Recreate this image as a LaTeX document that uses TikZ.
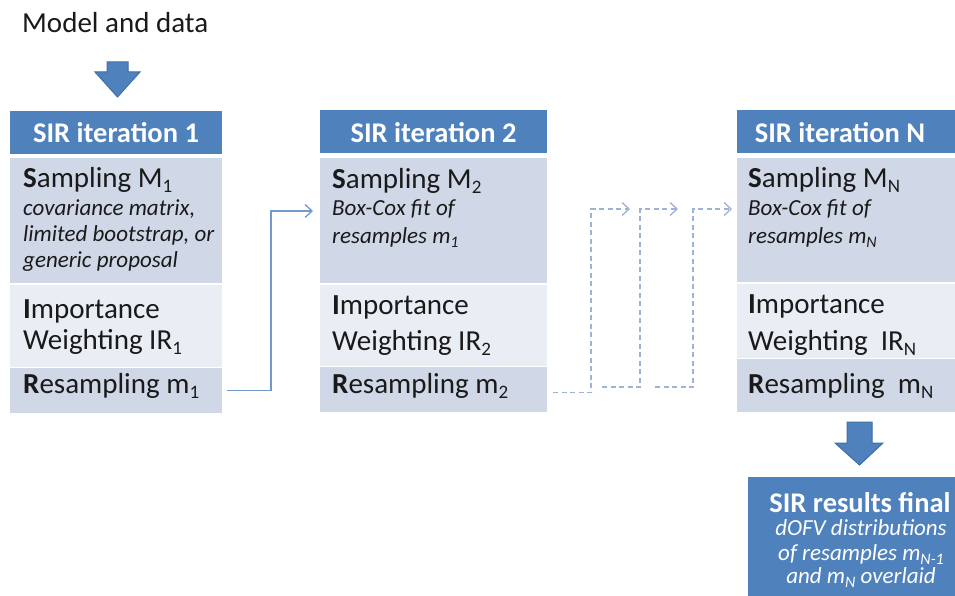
\documentclass[tikz,border=0pt]{standalone}
\usepackage{fontspec}
\setmainfont{Carlito}
\usetikzlibrary{arrows.meta}
\definecolor{hdr}{HTML}{4F81BD}
\definecolor{hdrdark}{HTML}{3F6FA8}
\definecolor{samp}{HTML}{D0D8E8}
\definecolor{imp}{HTML}{E9EDF4}
\definecolor{conn}{HTML}{7398CB}
\definecolor{dconn}{HTML}{9DB2D4}
\definecolor{ink}{HTML}{1A1A1A}
\newcommand{\subs}[1]{\raisebox{-5pt}{\fontsize{19}{19}\selectfont #1}}
\newcommand{\subi}[1]{\raisebox{-4pt}{\fontsize{16}{16}\selectfont #1}}
\tikzset{
  sec/.style={rectangle, draw=none, inner sep=0pt, outer sep=0pt, anchor=north west},
  bodytxt/.style={inner sep=0pt, anchor=base west, text=ink, font=\fontsize{29}{34}\selectfont},
  itxt/.style={inner sep=0pt, anchor=base west, text=ink, font=\fontsize{23}{26}\selectfont\itshape},
  hdrtxt/.style={inner sep=0pt, anchor=base, text=white, font=\fontsize{28.5}{30}\selectfont\bfseries},
  fintxt/.style={inner sep=0pt, anchor=base, text=white, font=\fontsize{23}{26}\selectfont\itshape},
  conline/.style={draw=conn, line width=1.5pt, -{Straight Barb[length=7pt,width=13pt,line width=1.3pt]}},
  dconline/.style={draw=dconn, line width=1.5pt, dash pattern=on 5pt off 3.5pt, -{Straight Barb[length=7pt,width=13pt,line width=1.3pt]}},
  blockarrow/.style={fill=hdr, draw=hdrdark, line width=1pt, line join=miter}
}
\begin{document}
\begin{tikzpicture}[x=1pt,y=-1pt]
\useasboundingbox (0,0) rectangle (955,596);
\fill[white] (0,0) rectangle (955,596);

% Model and data
\node[bodytxt] (model) at (22,33) {Model and data};
\draw[blockarrow] (107,62) -- (128,62) -- (128,72) -- (140,72) -- (117.5,97) -- (95,72) -- (107,72) -- cycle;

% ---- Box 1
\node[sec, fill=hdr,  minimum width=212pt, minimum height=43pt]  (h1) at (10,111) {};
\node[sec, fill=samp, minimum width=212pt, minimum height=125pt] (s1) at (10,158) {};
\node[sec, fill=imp,  minimum width=212pt, minimum height=82pt]  (i1) at (10,285) {};
\node[sec, fill=samp, minimum width=212pt, minimum height=45pt]  (r1) at (10,368) {};
\node[hdrtxt] (h1t) at (116,143) {SIR iteration 1};
\node[bodytxt] (s1t) at (23,188) {\textbf{S}ampling M\subs{1}};
\node[itxt] (s1a) at (23,215) {covariance matrix,};
\node[itxt] (s1b) at (23,241) {limited bootstrap, or};
\node[itxt] (s1c) at (23,267) {generic proposal};
\node[bodytxt] (i1a) at (23,318) {\textbf{I}mportance};
\node[bodytxt] (i1b) at (23,349) {Weighting IR\subs{1}};
\node[bodytxt] (r1t) at (23,393) {\textbf{R}esampling m\subs{1}};

% ---- Box 2
\node[sec, fill=hdr,  minimum width=227pt, minimum height=43pt]  (h2) at (320,110) {};
\node[sec, fill=samp, minimum width=227pt, minimum height=125pt] (s2) at (320,158) {};
\node[sec, fill=imp,  minimum width=227pt, minimum height=81pt]  (i2) at (320,285) {};
\node[sec, fill=samp, minimum width=227pt, minimum height=45pt]  (r2) at (320,367) {};
\node[hdrtxt] (h2t) at (433.5,143) {SIR iteration 2};
\node[bodytxt] (s2t) at (332,189) {\textbf{S}ampling M\subs{2}};
\node[itxt] (s2a) at (332,215) {Box-Cox fit of};
\node[itxt] (s2b) at (332,243) {resamples m\subi{1}};
\node[bodytxt] (i2a) at (332,314) {\textbf{I}mportance};
\node[bodytxt] (i2b) at (332,350) {Weighting IR\subs{2}};
\node[bodytxt] (r2t) at (332,393) {\textbf{R}esampling m\subs{2}};

% ---- Box N
\node[sec, fill=hdr,  minimum width=220pt, minimum height=43pt]  (hn) at (737,110) {};
\node[sec, fill=samp, minimum width=220pt, minimum height=124pt] (sn) at (737,158) {};
\node[sec, fill=imp,  minimum width=220pt, minimum height=74pt]  (in) at (737,284) {};
\node[sec, fill=samp, minimum width=220pt, minimum height=53pt]  (rn) at (737,359) {};
\node[hdrtxt] (hnt) at (840,143) {SIR iteration N};
\node[bodytxt] (snt) at (748,188) {\textbf{S}ampling M\subs{N}};
\node[itxt] (sna) at (748,215) {Box-Cox fit of};
\node[itxt] (snb) at (748,243) {resamples m\subi{N}};
\node[bodytxt] (ina) at (748,313) {\textbf{I}mportance};
\node[bodytxt] (inb) at (748,350) {Weighting\ \ IR\subs{N}};
\node[bodytxt] (rnt) at (748,393) {\textbf{R}esampling\ \ m\subs{N}};

% ---- Final
\draw[blockarrow] (847,422) -- (872,422) -- (872,443) -- (883,443) -- (859.5,465) -- (835,443) -- (847,443) -- cycle;
\node[sec, fill=hdr, minimum width=207pt, minimum height=120pt] (fin) at (748,477) {};
\node[hdrtxt] (fint) at (860,512) {SIR results final};
\node[fintxt] (fina) at (861,535) {dOFV distributions};
\node[fintxt] (finb) at (861,560) {of resamples m\subi{N-1}};
\node[fintxt] (finc) at (861,583) {and m\subi{N} overlaid};

% ---- connectors
\coordinate (k1) at (271,211);
\coordinate (a1) at (313,211);
\draw[conline] ([xshift=5pt]r1.east) -| (k1) -- (a1);

\coordinate (ka) at (591,209);
\coordinate (aa) at (630,209);
\draw[dconline] ([xshift=6pt,yshift=-3pt]r2.east) -| (ka) -- (aa);
\coordinate (sb) at (602,387);
\coordinate (kb) at (640,209);
\coordinate (ab) at (678,209);
\draw[dconline] (sb) -| (kb) -- (ab);
\coordinate (sc) at (655,387);
\coordinate (kc) at (693,209);
\coordinate (ac) at (732,209);
\draw[dconline] (sc) -| (kc) -- (ac);
\end{tikzpicture}
\end{document}
